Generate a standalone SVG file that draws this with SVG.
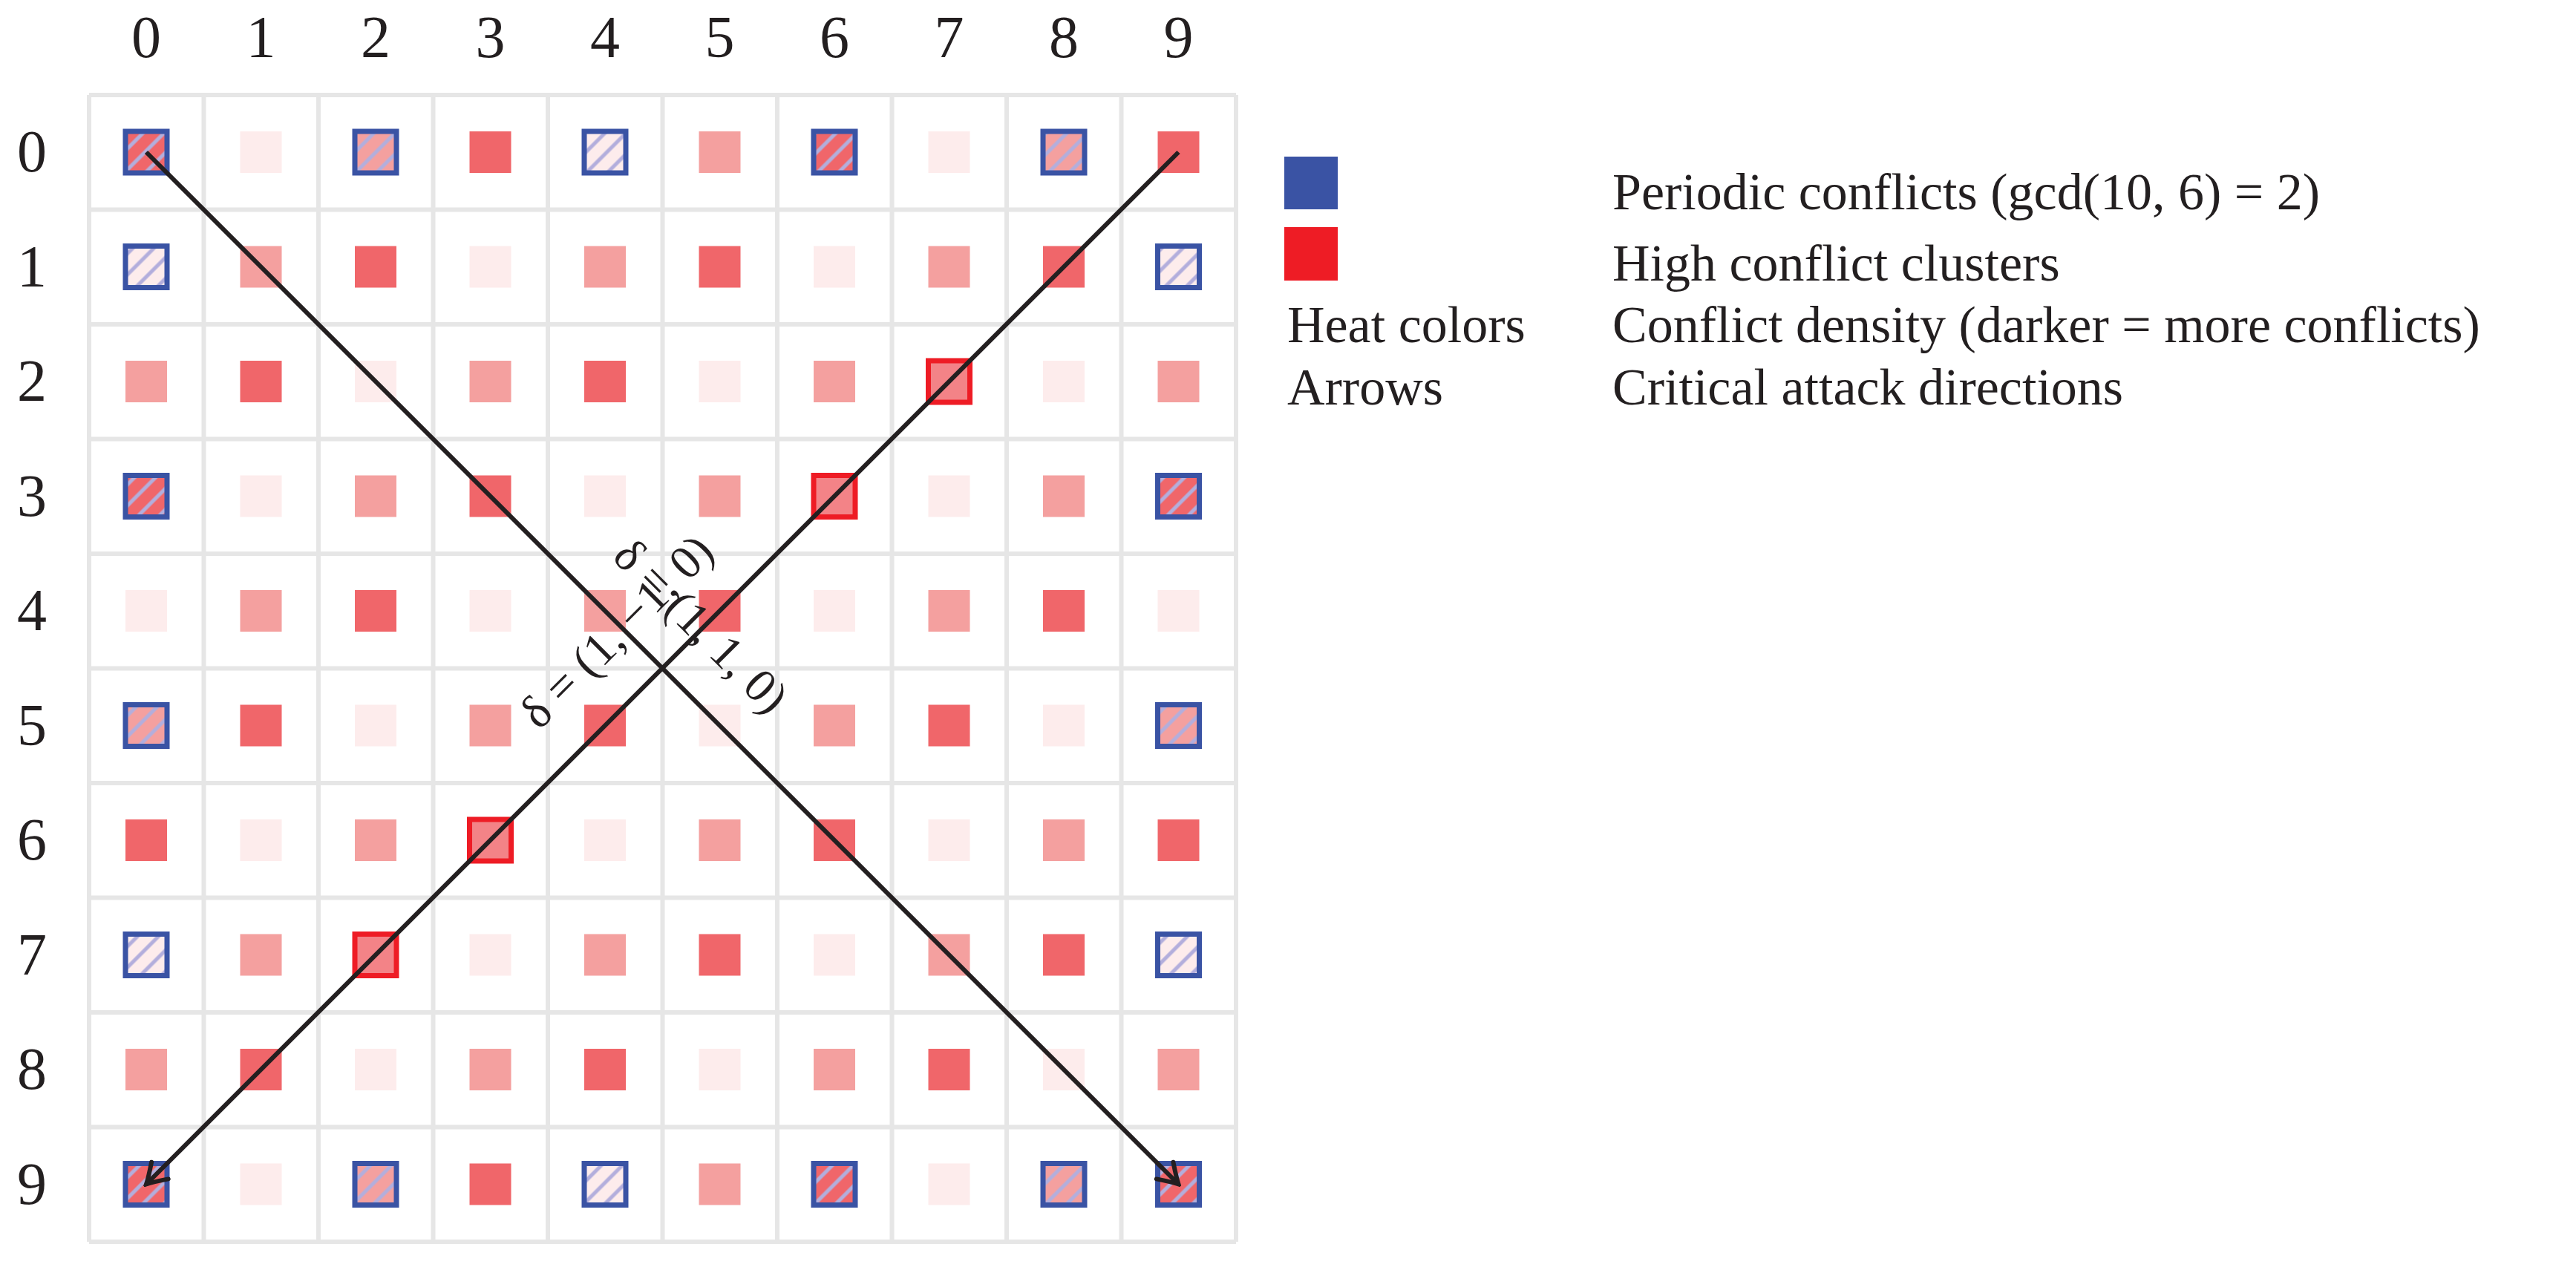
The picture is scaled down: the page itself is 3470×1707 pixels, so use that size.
<svg xmlns="http://www.w3.org/2000/svg" width="3470" height="1707" viewBox="0 0 3470 1707">
<style>
text{font-family:"Liberation Serif","DejaVu Serif",serif;fill:#231f20}
.ax{font-size:80px;text-anchor:middle}
.lg{font-size:70px}
.lb{font-size:64px;text-anchor:middle}
.D{fill:#f0666a}.M{fill:#f4a09f}.L{fill:#fdecec}
.H{fill:url(#h)}
.B{fill:none;stroke:#3a53a4;stroke-width:7}
.R{fill:#f38387;stroke:#ee1c25;stroke-width:7}
.ar{stroke:#231f20;stroke-width:6;fill:none;marker-end:url(#m)}
</style>
<defs>
<pattern id="h" width="20" height="20" patternUnits="userSpaceOnUse" patternTransform="rotate(45)"><line x1="3" y1="0" x2="3" y2="20" stroke="#b3aedc" stroke-width="5"/></pattern>
<marker id="m" viewBox="-30 -20 34 40" refX="0" refY="0" markerWidth="34" markerHeight="40" markerUnits="userSpaceOnUse" orient="auto"><path d="M-26,-16 Q-8,-4 0,0 Q-8,4 -26,16" fill="none" stroke="#231f20" stroke-width="6" stroke-linecap="round"/></marker>
<g id="r0"><rect x="169" width="56" height="56" class="D"/><rect x="323.5" width="56" height="56" class="L"/><rect x="478" width="56" height="56" class="M"/><rect x="632.5" width="56" height="56" class="D"/><rect x="787" width="56" height="56" class="L"/><rect x="941.5" width="56" height="56" class="M"/><rect x="1096" width="56" height="56" class="D"/><rect x="1250.5" width="56" height="56" class="L"/><rect x="1405" width="56" height="56" class="M"/><rect x="1559.5" width="56" height="56" class="D"/></g>
<g id="r1"><rect x="169" width="56" height="56" class="L"/><rect x="323.5" width="56" height="56" class="M"/><rect x="478" width="56" height="56" class="D"/><rect x="632.5" width="56" height="56" class="L"/><rect x="787" width="56" height="56" class="M"/><rect x="941.5" width="56" height="56" class="D"/><rect x="1096" width="56" height="56" class="L"/><rect x="1250.5" width="56" height="56" class="M"/><rect x="1405" width="56" height="56" class="D"/><rect x="1559.5" width="56" height="56" class="L"/></g>
<g id="r2"><rect x="169" width="56" height="56" class="M"/><rect x="323.5" width="56" height="56" class="D"/><rect x="478" width="56" height="56" class="L"/><rect x="632.5" width="56" height="56" class="M"/><rect x="787" width="56" height="56" class="D"/><rect x="941.5" width="56" height="56" class="L"/><rect x="1096" width="56" height="56" class="M"/><rect x="1250.5" width="56" height="56" class="D"/><rect x="1405" width="56" height="56" class="L"/><rect x="1559.5" width="56" height="56" class="M"/></g>
</defs>
<rect width="3470" height="1707" fill="#fff"/>
<g id="grid">
<path d="M120,128V1673M274.5,128V1673M429,128V1673M583.5,128V1673M738,128V1673M892.5,128V1673M1047,128V1673M1201.5,128V1673M1356,128V1673M1510.5,128V1673M1665,128V1673M120,128H1665M120,282.5H1665M120,437H1665M120,591.5H1665M120,746H1665M120,900.5H1665M120,1055H1665M120,1209.5H1665M120,1364H1665M120,1518.5H1665M120,1673H1665" stroke="#e6e6e6" stroke-width="6" fill="none"/>
</g>
<g id="axes">
<text class="ax" x="197" y="77">0</text><text class="ax" x="351.5" y="77">1</text><text class="ax" x="506" y="77">2</text><text class="ax" x="660.5" y="77">3</text><text class="ax" x="815" y="77">4</text><text class="ax" x="969.5" y="77">5</text><text class="ax" x="1124" y="77">6</text><text class="ax" x="1278.5" y="77">7</text><text class="ax" x="1433" y="77">8</text><text class="ax" x="1587.5" y="77">9</text>
<text class="ax" x="43" y="231">0</text><text class="ax" x="43" y="385.5">1</text><text class="ax" x="43" y="540">2</text><text class="ax" x="43" y="694.5">3</text><text class="ax" x="43" y="849">4</text><text class="ax" x="43" y="1003.5">5</text><text class="ax" x="43" y="1158">6</text><text class="ax" x="43" y="1312.5">7</text><text class="ax" x="43" y="1467">8</text><text class="ax" x="43" y="1621.5">9</text>
</g>
<g id="cells">
<use href="#r0" y="177"/><use href="#r1" y="331.5"/><use href="#r2" y="486"/><use href="#r0" y="640.5"/><use href="#r1" y="795"/><use href="#r2" y="949.5"/><use href="#r0" y="1104"/><use href="#r1" y="1258.5"/><use href="#r2" y="1413"/><use href="#r0" y="1567.5"/>
</g>
<g id="periodic">
<g id="hatch">
<rect x="169" y="177" width="56" height="56" class="H"/><rect x="478" y="177" width="56" height="56" class="H"/><rect x="787" y="177" width="56" height="56" class="H"/><rect x="1096" y="177" width="56" height="56" class="H"/><rect x="1405" y="177" width="56" height="56" class="H"/>
<rect x="169" y="331.5" width="56" height="56" class="H"/><rect x="169" y="640.5" width="56" height="56" class="H"/><rect x="169" y="949.5" width="56" height="56" class="H"/><rect x="169" y="1258.5" width="56" height="56" class="H"/>
<rect x="1559.5" y="331.5" width="56" height="56" class="H"/><rect x="1559.5" y="640.5" width="56" height="56" class="H"/><rect x="1559.5" y="949.5" width="56" height="56" class="H"/><rect x="1559.5" y="1258.5" width="56" height="56" class="H"/>
<rect x="169" y="1567.5" width="56" height="56" class="H"/><rect x="478" y="1567.5" width="56" height="56" class="H"/><rect x="787" y="1567.5" width="56" height="56" class="H"/><rect x="1096" y="1567.5" width="56" height="56" class="H"/><rect x="1405" y="1567.5" width="56" height="56" class="H"/><rect x="1559.5" y="1567.5" width="56" height="56" class="H"/>
</g>
<g id="borders">
<rect x="169" y="177" width="56" height="56" class="B"/><rect x="478" y="177" width="56" height="56" class="B"/><rect x="787" y="177" width="56" height="56" class="B"/><rect x="1096" y="177" width="56" height="56" class="B"/><rect x="1405" y="177" width="56" height="56" class="B"/>
<rect x="169" y="331.5" width="56" height="56" class="B"/><rect x="169" y="640.5" width="56" height="56" class="B"/><rect x="169" y="949.5" width="56" height="56" class="B"/><rect x="169" y="1258.5" width="56" height="56" class="B"/>
<rect x="1559.5" y="331.5" width="56" height="56" class="B"/><rect x="1559.5" y="640.5" width="56" height="56" class="B"/><rect x="1559.5" y="949.5" width="56" height="56" class="B"/><rect x="1559.5" y="1258.5" width="56" height="56" class="B"/>
<rect x="169" y="1567.5" width="56" height="56" class="B"/><rect x="478" y="1567.5" width="56" height="56" class="B"/><rect x="787" y="1567.5" width="56" height="56" class="B"/><rect x="1096" y="1567.5" width="56" height="56" class="B"/><rect x="1405" y="1567.5" width="56" height="56" class="B"/><rect x="1559.5" y="1567.5" width="56" height="56" class="B"/>
</g>
</g>
<g id="clusters">
<rect x="1250.5" y="486" width="56" height="56" class="R"/><rect x="1096" y="640.5" width="56" height="56" class="R"/><rect x="632.5" y="1104" width="56" height="56" class="R"/><rect x="478" y="1258.5" width="56" height="56" class="R"/>
</g>
<g id="connectors">
<line class="ar" x1="197" y1="205" x2="1587.5" y2="1595.5"/>
<line class="ar" x1="1587.5" y1="205" x2="197" y2="1595.5"/>
<text class="lb" transform="translate(830,850) rotate(-45)" y="22">δ = (1, −1, 0)</text>
<text class="lb" transform="translate(945,843) rotate(45)" y="22">δ = (1, 1, 0)</text>
</g>
<g id="legend">
<rect x="1730" y="211" width="72" height="71" fill="#3a53a4"/>
<rect x="1730" y="306" width="72" height="72" fill="#ee1c25"/>
<text class="lg" x="2172" y="282">Periodic conflicts (gcd(10, 6) = 2)</text>
<text class="lg" x="2172" y="378">High conflict clusters</text>
<text class="lg" x="1734" y="461">Heat colors</text>
<text class="lg" x="2172" y="461">Conflict density (darker = more conflicts)</text>
<text class="lg" x="1734" y="545">Arrows</text>
<text class="lg" x="2172" y="545">Critical attack directions</text>
</g>
</svg>
